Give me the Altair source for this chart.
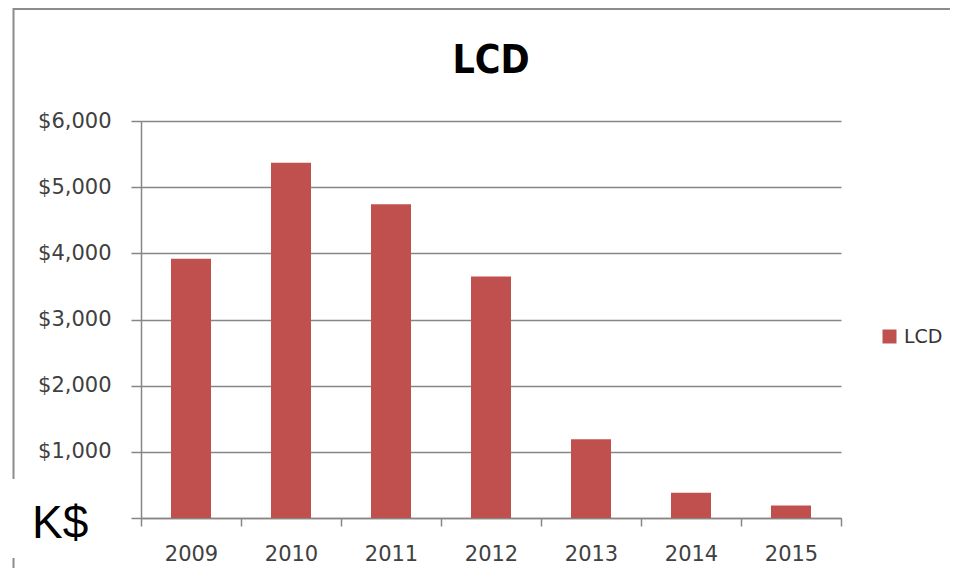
import altair as alt
import pandas as pd

years = ["2009", "2010", "2011", "2012", "2013", "2014", "2015"]
values = [3920, 5370, 4740, 3650, 1190, 380, 190]
series_name = "LCD"
y_ticks = [0, 1000, 2000, 3000, 4000, 5000, 6000]
title_text = ["LCD"]
unit_text = ["K$"]

df = pd.DataFrame({"year": years, "value": values, "series": [series_name] * len(years)})

W, H = 700, 397
GRAY = "#868686"
LABEL = "#404040"

bars = alt.Chart(df).mark_bar(width={"band": 0.4}).encode(
    x=alt.X(
        "year:N",
        sort=years,
        scale=alt.Scale(paddingInner=0, paddingOuter=0),
        axis=alt.Axis(
            title=None, labelAngle=0, labelFont="DejaVu Sans", labelFontSize=21,
            labelColor=LABEL, labelPadding=17, tickSize=8, tickColor=GRAY,
            tickWidth=1.5, domainColor=GRAY, domainWidth=1.5, tickBand="extent",
        ),
    ),
    y=alt.Y(
        "value:Q",
        scale=alt.Scale(domain=[0, 6000], nice=False),
        axis=alt.Axis(
            title=None, values=y_ticks, format="$,.0f", labelFont="DejaVu Sans",
            labelExpr="datum.value == 0 ? '' : datum.label",
            labelFontSize=21, labelColor=LABEL, labelPadding=20, tickSize=10,
            tickColor=GRAY, tickWidth=1.5, domainColor=GRAY, domainWidth=1.5,
            grid=True, gridColor=GRAY, gridWidth=1.5,
        ),
    ),
    color=alt.Color(
        "series:N",
        scale=alt.Scale(range=["#C0504D"]),
        legend=alt.Legend(
            title=None, orient="none", legendX=739, legendY=206, symbolType="square",
            symbolSize=196, symbolStrokeWidth=0, labelFont="DejaVu Sans",
            labelFontSize=19, labelColor="#333333", labelOffset=5, padding=0,
        ),
    ),
)

title = alt.Chart(pd.DataFrame({"t": title_text})).mark_text(
    font="'Liberation Sans Narrow', 'DejaVu Sans Condensed', 'Liberation Sans', sans-serif",
    fontWeight="bold", fontSize=39, align="center", baseline="alphabetic", color="#000000",
).encode(text="t:N", x=alt.value(350), y=alt.value(-48))

unit = alt.Chart(pd.DataFrame({"t": unit_text})).mark_text(
    font="Liberation Sans", fontSize=46, align="left", baseline="alphabetic", color="#000000",
).encode(text="t:N", x=alt.value(-109), y=alt.value(417))

one = pd.DataFrame({"a": [0]})
frame_top = alt.Chart(one).mark_rule(color="#8C8C8C", strokeWidth=2).encode(
    x=alt.value(-128), x2=alt.value(820), y=alt.value(-112)
)
frame_left1 = alt.Chart(one).mark_rule(color="#8C8C8C", strokeWidth=2).encode(
    x=alt.value(-127.5), y=alt.value(-113), y2=alt.value(358)
)
frame_left2 = alt.Chart(one).mark_rule(color="#8C8C8C", strokeWidth=2).encode(
    x=alt.value(-127.5), y=alt.value(437), y2=alt.value(460)
)

chart = (
    alt.layer(bars, title, unit, frame_top, frame_left1, frame_left2)
    .properties(
        width=W, height=H,
        autosize=alt.AutoSizeParams(type="none"),
        padding={"left": 133, "top": 113, "right": 109, "bottom": 50},
    )
    .configure(background="white")
    .configure_view(strokeWidth=0, stroke="transparent")
)

chart.save("out.html", embed_options={"renderer": "svg", "actions": False})
